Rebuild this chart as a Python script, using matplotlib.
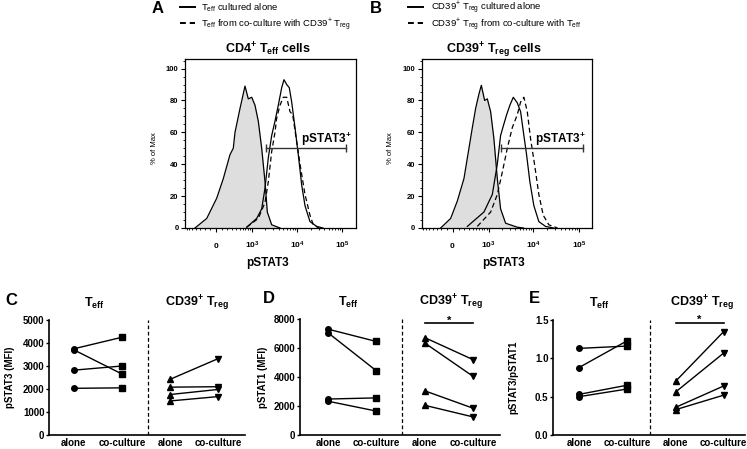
import numpy as np
import matplotlib
matplotlib.use('Agg')
import matplotlib.pyplot as plt
from matplotlib.lines import Line2D
from matplotlib.ticker import MultipleLocator, FixedLocator

plt.rcParams['font.family'] = ['Liberation Sans', 'DejaVu Sans']
plt.rcParams['mathtext.fontset'] = 'custom'
plt.rcParams['mathtext.rm'] = 'Liberation Sans'
plt.rcParams['mathtext.bf'] = 'Liberation Sans:bold'
plt.rcParams['mathtext.it'] = 'Liberation Sans:italic'

################ DATA ################
# Histograms (pSTAT3 intensity, % of max)
A_grey_x = [-425, -162, 12, 126, 256, 330, 372, 512, 684, 821, 987, 1175, 1397, 1665, 1975, 2222, 2780, 4240]
A_grey_y = [0, 6, 18.7, 31, 46, 50, 60, 75, 89, 81, 82, 77, 67, 50, 29, 10, 2, 0]
A_solid_x = [752, 1285, 1665, 1975, 2338, 2780, 3288, 3890, 4622, 5195, 5957, 6790, 7672, 9071, 10720, 12730, 15050, 19380, 27200, 37400]
A_solid_y = [0.5, 6, 12, 25, 44, 58, 67, 77, 88, 93, 90, 88, 79, 63, 46, 27, 14, 4, 1, 0]
A_dash_x = [752, 1397, 1975, 2338, 2780, 3288, 3587, 4242, 5012, 5957, 7040, 8073, 9887, 12100, 15050, 19380, 22890, 30570]
A_dash_y = [0.5, 6, 16, 29, 48, 60, 69, 77, 82, 82, 73, 71, 54, 37.5, 21, 8, 2, 0]
A_gate = [2078, 119900]

B_grey_x = [-215, -34, 80, 201, 307, 390, 481, 586, 673, 808, 935, 1115, 1325, 1581, 1874, 2424, 4392, 6048]
B_grey_y = [0, 6, 17, 31, 50, 63, 75, 84, 89.5, 80, 81, 73, 56, 31, 12, 3, 0.5, 0]
B_solid_x = [271, 777, 1219, 1581, 1874, 2155, 2551, 3016, 3587, 4392, 5195, 6141, 7040, 8322, 10190, 13120, 18430, 27600]
B_solid_y = [1, 10, 21, 40, 58, 64, 71, 77, 82, 78.5, 73, 58, 46, 29, 14, 4, 1, 0]
B_dash_x = [533, 1115, 1581, 2046, 2642, 3410, 4392, 5195, 6141, 7293, 8621, 10550, 13120, 16400, 21780, 33830]
B_dash_y = [1, 10, 21, 35, 50, 63, 71, 79, 82, 73, 56, 40, 21, 8, 2, 0]
B_gate = [1944, 124100]
gate_level = 50

# Paired data (alone -> co-culture)
categories = ['alone', 'co-culture', 'alone', 'co-culture']
C_teff_alone = [3750, 3700, 2820, 2030]
C_teff_co = [4250, 2650, 3000, 2050]
C_treg_alone = [2420, 2080, 1760, 1480]
C_treg_co = [3320, 2100, 1980, 1670]

D_teff_alone = [7300, 7050, 2480, 2330]
D_teff_co = [6450, 4430, 2560, 1650]
D_treg_alone = [6720, 6350, 3050, 2050]
D_treg_co = [5200, 4050, 1850, 1250]

E_teff_alone = [1.13, 0.88, 0.53, 0.50]
E_teff_co = [1.16, 1.23, 0.65, 0.60]
E_treg_alone = [0.70, 0.56, 0.36, 0.33]
E_treg_co = [1.35, 1.07, 0.64, 0.52]
######################################

W, H = 747, 449
fig = plt.figure(figsize=(W / 100, H / 100), dpi=100)


def fx(x):
    return x / W


def fy(y):
    return 1 - y / H


def ftext(x, y, s, **kw):
    fig.text(fx(x), fy(y), s, **kw)


# logicle-like axis (arcsinh)
def fwd(x):
    return np.arcsinh(np.asarray(x, dtype=float) / 333.0)


def inv(u):
    return 333.0 * np.sinh(np.asarray(u, dtype=float))


def hist_panel(ax, gx, gy, sx, sy, dx, dy, gate):
    ax.set_xscale('function', functions=(fwd, inv))
    ax.fill_between(gx, gy, 0, color='#dedede', lw=0)
    ax.plot(gx, gy, color='k', lw=0.9)
    ax.plot(sx, sy, color='k', lw=0.9)
    ax.plot(dx, dy, color='k', lw=0.9, ls=(0, (4, 2.5)))
    ax.plot(gate, [gate_level, gate_level], color='#333333', lw=1.0,
            marker='|', markersize=6, markeredgewidth=1.0)
    ax.set_xlim(-765, 194000)
    ax.set_ylim(0, 106)
    ax.set_yticks([0, 20, 40, 60, 80, 100])
    ax.yaxis.set_minor_locator(MultipleLocator(5))
    ax.set_xticks([0, 1e3, 1e4, 1e5])
    ax.set_xticklabels([])
    minors = [v for v in range(-700, 1000, 100) if v != 0]
    minors += [m * 10 ** k for k in (3, 4) for m in range(2, 10)] + [2e5]
    ax.xaxis.set_minor_locator(FixedLocator(minors))
    ax.tick_params(axis='both', which='major', length=3, width=0.8, labelsize=5.5, pad=1.5)
    ax.tick_params(axis='both', which='minor', length=1.5, width=0.6)
    for lab in ax.get_yticklabels():
        lab.set_fontweight('bold')
    for v, s in zip([0, 1e3, 1e4, 1e5], [r'$\mathbf{0}$', r'$\mathbf{10^{3}}$', r'$\mathbf{10^{4}}$', r'$\mathbf{10^{5}}$']):
        ax.text(v, -0.12, s, transform=ax.get_xaxis_transform(), ha='center', va='baseline', fontsize=6)
    for sp in ax.spines.values():
        sp.set_linewidth(0.9)


axA = fig.add_axes([fx(185), fy(228), (355.5 - 185) / W, (228 - 59) / H])
hist_panel(axA, A_grey_x, A_grey_y, A_solid_x, A_solid_y, A_dash_x, A_dash_y, A_gate)
axB = fig.add_axes([fx(421.7), fy(228), (592 - 421.7) / W, (228 - 59) / H])
hist_panel(axB, B_grey_x, B_grey_y, B_solid_x, B_solid_y, B_dash_x, B_dash_y, B_gate)

# histogram texts
ftext(267.5, 53, r'$\mathbf{CD4^{+}\ T_{eff}\ cells}$', ha='center', va='baseline', fontsize=9)
ftext(493.5, 53, r'$\mathbf{CD39^{+}\ T_{reg}\ cells}$', ha='center', va='baseline', fontsize=9)
ftext(267, 263, 'pSTAT3', ha='center', va='center', fontsize=8.5, fontweight='bold')
ftext(503, 263, 'pSTAT3', ha='center', va='center', fontsize=8.5, fontweight='bold')
ftext(155, 148, '% of Max', ha='center', va='center', rotation=90, fontsize=5.5)
ftext(391, 148, '% of Max', ha='center', va='center', rotation=90, fontsize=5.5)
ftext(351.7, 143.3, r'$\mathbf{pSTAT3^{+}}$', ha='right', va='baseline', fontsize=8.5)
ftext(585.7, 143.3, r'$\mathbf{pSTAT3^{+}}$', ha='right', va='baseline', fontsize=8.5)

# legends on top
ftext(151.7, 13.3, 'A', ha='left', va='baseline', fontsize=12, fontweight='bold')
ftext(370, 13.3, 'B', ha='left', va='baseline', fontsize=12, fontweight='bold')
legend_items = [
    (180, 195, 201, 7, 10, '-', r'T$_{\mathrm{eff}}$ cultured alone'),
    (180, 195, 201, 23, 27, (0, (3, 2)), r'T$_{\mathrm{eff}}$ from co-culture with CD39$^{+}$ T$_{\mathrm{reg}}$'),
    (408, 423, 431, 7, 10, '-', r'CD39$^{+}$ T$_{\mathrm{reg}}$ cultured alone'),
    (408, 423, 431, 23, 27, (0, (3, 2)), r'CD39$^{+}$ T$_{\mathrm{reg}}$ from co-culture with T$_{\mathrm{eff}}$'),
]
for x0, x1, xt, yl, yt, ls, lab in legend_items:
    fig.add_artist(Line2D([fx(x0), fx(x1)], [fy(yl), fy(yl)], color='k', lw=1.4, ls=ls,
                          transform=fig.transFigure))
    ftext(xt, yt, lab, ha='left', va='baseline', fontsize=6.8)


# paired panels
def paired_panel(ax, ta, tc, ra, rc, ylim, yticks, ylabel, xl, xr, sep, star=None):
    pos = [0, 1, 2, 3]
    for a, c in zip(ta, tc):
        ax.plot([pos[0], pos[1]], [a, c], color='k', lw=1.0)
    for a, c in zip(ra, rc):
        ax.plot([pos[2], pos[3]], [a, c], color='k', lw=1.0)
    ax.plot([pos[0]] * len(ta), ta, 'o', color='k', ms=4)
    ax.plot([pos[1]] * len(tc), tc, 's', color='k', ms=3.8)
    ax.plot([pos[2]] * len(ra), ra, '^', color='k', ms=4.2)
    ax.plot([pos[3]] * len(rc), rc, 'v', color='k', ms=4.2)
    ax.axvline(sep, color='k', lw=0.9, ls=(0, (3, 2)))
    ax.set_xlim(xl, xr)
    ax.set_ylim(*ylim)
    ax.set_yticks(yticks)
    ax.set_xticks(pos)
    ax.set_xticklabels(categories, fontsize=7, fontweight='bold')
    ax.tick_params(axis='x', length=0, pad=2.5)
    ax.tick_params(axis='y', length=2.5, width=1.0, labelsize=7, pad=0.8)
    for lab in ax.get_yticklabels():
        lab.set_fontweight('bold')
    ax.spines['top'].set_visible(False)
    ax.spines['right'].set_visible(False)
    ax.spines['left'].set_linewidth(1.2)
    ax.spines['bottom'].set_linewidth(1.2)
    ax.set_ylabel(ylabel, fontsize=7, fontweight='bold')
    trans = ax.get_xaxis_transform()
    ax.text(0.42, 1 + (320 - 306.7) / 115, r'$\mathbf{T_{eff}}$', transform=trans,
            ha='center', va='baseline', fontsize=9)
    ax.text(2.55, 1 + (320 - 306.7) / 115, r'$\mathbf{CD39^{+}\ T_{reg}}$', transform=trans,
            ha='center', va='baseline', fontsize=9)
    if star is not None:
        ax.plot([pos[2], pos[3]], [star, star], color='k', lw=1.2, clip_on=False)
        ax.text(2.5, star, '*', ha='center', va='baseline', fontsize=8, fontweight='bold')


axC = fig.add_axes([fx(49), fy(435), (245 - 49) / W, 115 / H])
paired_panel(axC, C_teff_alone, C_teff_co, C_treg_alone, C_treg_co, (0, 5000),
             [0, 1000, 2000, 3000, 4000, 5000], 'pSTAT3 (MFI)', -0.52, 3.56, 1.54)
axC.yaxis.set_label_coords((15 - 49) / 196, 0.5)

axD = fig.add_axes([fx(300), fy(435), (500 - 300) / W, 116 / H])
paired_panel(axD, D_teff_alone, D_teff_co, D_treg_alone, D_treg_co, (0, 8000),
             [0, 2000, 4000, 6000, 8000], 'pSTAT1 (MFI)', -0.58, 3.56, 1.53, star=7700)
axD.yaxis.set_label_coords((268 - 300) / 200, 0.5)

axE = fig.add_axes([fx(553), fy(435), (745 - 553) / W, 115 / H])
paired_panel(axE, E_teff_alone, E_teff_co, E_treg_alone, E_treg_co, (0, 1.5),
             [0.0, 0.5, 1.0, 1.5], 'pSTAT3/pSTAT1', -0.54, 3.44, 1.47, star=1.46)
axE.set_yticklabels(['0.0', '0.5', '1.0', '1.5'], fontweight='bold')
axE.yaxis.set_label_coords((518 - 553) / 192, 0.5)

ftext(5, 305, 'C', ha='left', va='baseline', fontsize=12, fontweight='bold')
ftext(263.3, 303.3, 'D', ha='left', va='baseline', fontsize=12, fontweight='bold')
ftext(528.7, 303.3, 'E', ha='left', va='baseline', fontsize=12, fontweight='bold')

fig.savefig('out.png', dpi=100)
